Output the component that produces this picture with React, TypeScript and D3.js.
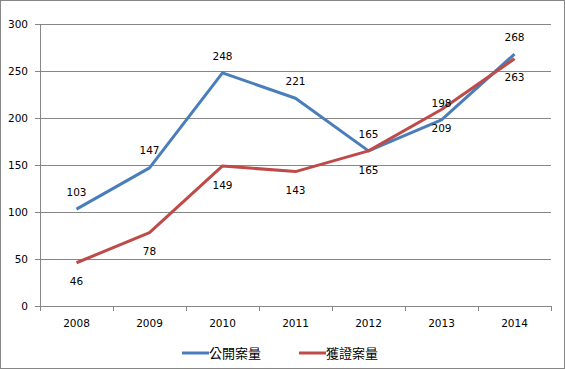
import { useEffect, useRef } from "react";
import * as d3 from "d3";

const years = ["2008", "2009", "2010", "2011", "2012", "2013", "2014"];
const publicCases = [103, 147, 248, 221, 165, 198, 268];
const grantedCases = [46, 78, 149, 143, 165, 209, 263];
const yTicks = [0, 50, 100, 150, 200, 250, 300];

const seriesList = [
  { name: "公開案量", values: publicCases, color: "#4a7ebb", labelPos: "above" },
  { name: "獲證案量", values: grantedCases, color: "#be4b48", labelPos: "below" },
];

const W = 565;
const H = 369;
const FONT = "'DejaVu Sans', Verdana, sans-serif";

export default function App() {
  const svgRef = useRef<SVGSVGElement>(null);

  useEffect(() => {
    if (!svgRef.current) return;
    const svg = d3.select(svgRef.current);
    svg.selectAll("*").remove();

    const left = 40;
    const right = 551;
    const top = 24;
    const bottom = 306;
    const axisColor = "#868686";

    // outer frame
    svg
      .append("rect")
      .attr("x", 0.5)
      .attr("y", 0.5)
      .attr("width", W - 1)
      .attr("height", H - 1)
      .attr("fill", "white")
      .attr("stroke", axisColor);

    const x = d3.scaleBand().domain(years).range([left, right]);
    const y = d3.scaleLinear().domain([0, 300]).range([bottom, top]);

    // gridlines + y ticks
    const grid = svg.append("g");
    for (const t of yTicks) {
      const yy = Math.round(y(t)) + 0.5;
      grid
        .append("line")
        .attr("x1", left - 5)
        .attr("x2", right)
        .attr("y1", yy)
        .attr("y2", yy)
        .attr("stroke", axisColor)
        .attr("stroke-width", 1);
      grid
        .append("text")
        .attr("x", 28)
        .attr("y", yy)
        .attr("dy", "0.35em")
        .attr("text-anchor", "end")
        .attr("font-family", FONT)
        .attr("font-size", "10.5px")
        .attr("fill", "#000")
        .text(t);
    }

    // y axis line
    svg
      .append("line")
      .attr("x1", left + 0.5)
      .attr("x2", left + 0.5)
      .attr("y1", top)
      .attr("y2", bottom)
      .attr("stroke", axisColor);

    // x ticks at category boundaries
    const bounds = years.map((yr) => x(yr)!).concat([right]);
    for (const b of bounds) {
      const xx = Math.round(b) + 0.5;
      svg
        .append("line")
        .attr("x1", xx)
        .attr("x2", xx)
        .attr("y1", bottom)
        .attr("y2", bottom + 5)
        .attr("stroke", axisColor);
    }
    for (const yr of years) {
      svg
        .append("text")
        .attr("x", x(yr)! + x.bandwidth() / 2)
        .attr("y", 327)
        .attr("text-anchor", "middle")
        .attr("font-family", FONT)
        .attr("font-size", "10.5px")
        .attr("fill", "#000")
        .text(yr);
    }

    const line = d3
      .line<number>()
      .x((_d, i) => x(years[i])! + x.bandwidth() / 2)
      .y((d) => y(d));

    for (const s of seriesList) {
      svg
        .append("path")
        .attr("d", line(s.values))
        .attr("fill", "none")
        .attr("stroke", s.color)
        .attr("stroke-width", 3)
        .attr("stroke-linejoin", "round");
    }

    // data labels
    for (const s of seriesList) {
      s.values.forEach((v, i) => {
        svg
          .append("text")
          .attr("x", x(years[i])! + x.bandwidth() / 2)
          .attr("y", y(v) + (s.labelPos === "above" ? -17 : 19))
          .attr("dy", "0.35em")
          .attr("text-anchor", "middle")
          .attr("font-family", FONT)
          .attr("font-size", "10.5px")
          .attr("fill", "#000")
          .text(v);
      });
    }

    // legend
    const legendItems = [
      { s: seriesList[0], x0: 182 },
      { s: seriesList[1], x0: 299 },
    ];
    for (const { s, x0 } of legendItems) {
      svg
        .append("line")
        .attr("x1", x0)
        .attr("x2", x0 + 27)
        .attr("y1", 353)
        .attr("y2", 353)
        .attr("stroke", s.color)
        .attr("stroke-width", 3);
      svg
        .append("text")
        .attr("x", x0 + 27)
        .attr("y", 353)
        .attr("dy", "0.38em")
        .attr("font-family", "'Noto Sans CJK TC', sans-serif")
        .attr("font-size", "13px")
        .attr("fill", "#000")
        .text(s.name);
    }
  }, []);

  return (
    <>
      <style>{`body{margin:0}`}</style>
      <svg ref={svgRef} width={W} height={H} style={{ display: "block" }} />
    </>
  );
}
